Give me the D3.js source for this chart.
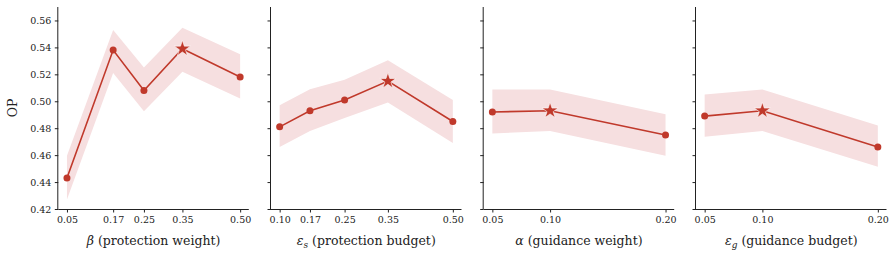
<!DOCTYPE html>
<html><head><meta charset="utf-8">
<script src="https://cdn.jsdelivr.net/npm/d3@7"></script>
<style>body{margin:0;background:#fff}svg{display:block}text{font-family:"DejaVu Serif","Liberation Serif",serif;fill:#222}</style>
</head><body><svg id="c" width="895" height="256"></svg>
<script>
const yTicks = [0.42,0.44,0.46,0.48,0.50,0.52,0.54,0.56];
const p1x = [0.05,0.17,0.25,0.35,0.50];
const p1y = [0.443,0.538,0.508,0.539,0.518];
const p1lo = [0.427,0.521,0.4925,0.522,0.502];
const p1hi = [0.4595,0.553,0.525,0.5545,0.535];
const p2x = [0.10,0.17,0.25,0.35,0.50];
const p2y = [0.481,0.493,0.501,0.515,0.485];
const p2lo = [0.466,0.478,0.4875,0.499,0.469];
const p2hi = [0.497,0.509,0.516,0.5305,0.501];
const p3x = [0.05,0.10,0.20];
const p3y = [0.492,0.493,0.475];
const p3lo = [0.476,0.478,0.4595];
const p3hi = [0.5087,0.5087,0.4904];
const p4x = [0.05,0.10,0.20];
const p4y = [0.489,0.493,0.466];
const p4lo = [0.4736,0.478,0.4513];
const p4hi = [0.505,0.5087,0.482];
const bestIdx = [3,3,1,1];
const labels = [
  [["β","i"],[" (protection weight)",""]],
  [["ε","i"],["s","sub"],[" (protection budget)",""]],
  [["α","i"],[" (guidance weight)",""]],
  [["ε","i"],["g","sub"],[" (guidance budget)",""]]
];
const panels = [
  {x:p1x,y:p1y,lo:p1lo,hi:p1hi},
  {x:p2x,y:p2y,lo:p2lo,hi:p2hi},
  {x:p3x,y:p3y,lo:p3lo,hi:p3hi},
  {x:p4x,y:p4y,lo:p4lo,hi:p4hi}
];
const lefts = [58.3,271,483.7,696];
const W = 190.5, yTop = 7, yBot = 209;
const color = "#c0392b", band = "#f6dfe0";
const FONT = '"DejaVu Serif","Liberation Serif",serif';
const svg = d3.select("#c");
const y = d3.scaleLinear().domain([0.42,0.57]).range([yBot, yTop]);

panels.forEach((p,i)=>{
  const mn = d3.min(p.x), mx = d3.max(p.x), m = (mx-mn)*0.05;
  const x = d3.scaleLinear().domain([mn-m, mx+m]).range([lefts[i], lefts[i]+W]);
  const g = svg.append("g");
  const pts = p.x.map((v,j)=>({x:v,y:p.y[j],lo:p.lo[j],hi:p.hi[j]}));
  g.append("path").datum(pts).attr("fill",band)
    .attr("d", d3.area().x(d=>x(d.x)).y0(d=>y(d.lo)).y1(d=>y(d.hi)));
  g.append("path").datum(pts).attr("fill","none").attr("stroke",color).attr("stroke-width",1.6)
    .attr("d", d3.line().x(d=>x(d.x)).y(d=>y(d.y)));
  pts.forEach((d,j)=>{
    if (j===bestIdx[i]) {
      g.append("path").attr("d", d3.symbol(d3.symbolStar, 80)())
        .attr("transform",`translate(${x(d.x)},${y(d.y)})`)
        .attr("fill",color).attr("stroke","#fff").attr("stroke-width",0.6);
    } else {
      g.append("circle").attr("cx",x(d.x)).attr("cy",y(d.y)).attr("r",3.5).attr("fill",color);
    }
  });
  const xa = g.append("g").attr("transform",`translate(0,${yBot})`)
    .call(d3.axisBottom(x).tickValues(p.x).tickFormat(d3.format(".2f")).tickSize(3.5).tickPadding(3.5));
  xa.attr("font-family",FONT).attr("font-size",9.5);
  xa.select(".domain").attr("d",`M${lefts[i]},0.5H${lefts[i]+W}`).attr("stroke","#222").attr("stroke-width",1);
  xa.selectAll(".tick line").attr("stroke","#222");
  xa.selectAll("text").attr("fill","#222");
  const ya = g.append("g").attr("transform",`translate(${lefts[i]},0)`)
    .call(d3.axisLeft(y).tickValues(yTicks).tickFormat(i===0?d3.format(".2f"):()=>"").tickSize(3.5).tickPadding(3.5));
  ya.attr("font-family",FONT).attr("font-size",9.5);
  ya.select(".domain").attr("d",`M-0.5,${yBot}V${yTop}`).attr("stroke","#222").attr("stroke-width",1);
  ya.selectAll(".tick line").attr("stroke","#222");
  ya.selectAll("text").attr("fill","#222");
  const t = g.append("text").attr("x", lefts[i]+W/2).attr("y",245).attr("text-anchor","middle")
    .attr("font-family",FONT).attr("font-size",12.5);
  labels[i].forEach(([s,k])=>{
    const ts = t.append("tspan").text(s);
    if (k==="i") ts.attr("font-style","italic");
    if (k==="sub") { ts.attr("font-style","italic").attr("font-size",9).attr("dy",3); }
    else if (labels[i].length>2 && s.startsWith(" ")) ts.attr("dy",-3);
  });
});
svg.append("text").attr("transform",`translate(17,${(yTop+yBot)/2}) rotate(-90)`)
  .attr("text-anchor","middle").attr("font-family",FONT).attr("font-size",12.5).text("OP");
</script></body></html>
